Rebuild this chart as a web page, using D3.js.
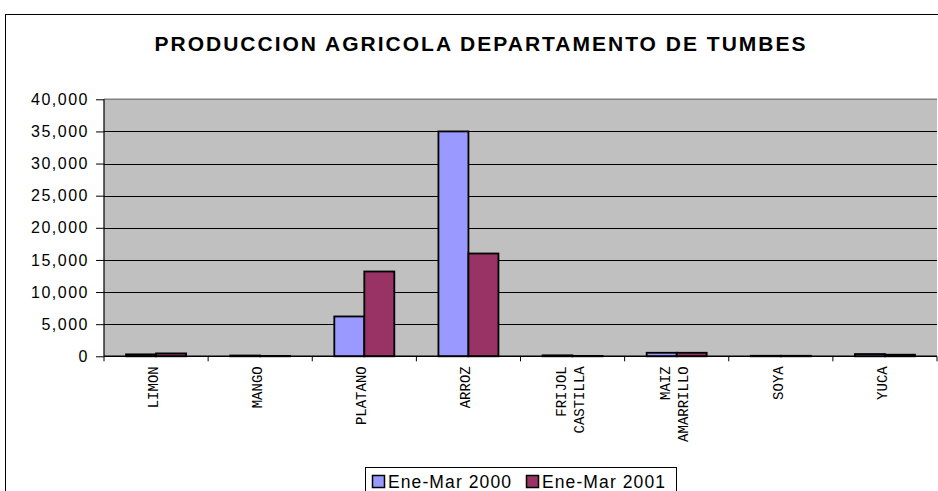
<!DOCTYPE html>
<html><head><meta charset="utf-8">
<script src="https://cdn.jsdelivr.net/npm/d3@7"></script>
<style>body{margin:0;background:#fff;} svg{display:block;}</style>
</head><body>
<svg id="chart" width="938" height="491"></svg>
<script>
const categories = [["LIMON"],["MANGO"],["PLATANO"],["ARROZ"],["FRIJOL","CASTILLA"],["MAIZ","AMARRILLO"],["SOYA"],["YUCA"]];
const seriesNames = ["Ene-Mar 2000","Ene-Mar 2001"];
const values2000 = [300, 120, 6200, 35000, 150, 550, 80, 350];
const values2001 = [450, 60, 13200, 16000, 60, 550, 80, 250];
const yTicks = [0,5000,10000,15000,20000,25000,30000,35000,40000];
const colors = ["#9999FF","#993366"];

(function(){
const svg = d3.select("#chart");
const sans = "Arial, Liberation Sans, sans-serif";
svg.append("rect").attr("x",5.5).attr("y",14.5).attr("width",940).attr("height",490)
  .attr("fill","#fff").attr("stroke","#000").attr("stroke-width",1);

svg.append("text").attr("x",481).attr("y",51).attr("text-anchor","middle")
  .attr("font-family",sans).attr("font-weight","bold").attr("font-size",21).attr("letter-spacing",2.0)
  .text("PRODUCCION AGRICOLA DEPARTAMENTO DE TUMBES");

const pl=104, pr=937, pt=99.3, pb=356.3;
const x = d3.scaleBand().domain(d3.range(categories.length)).range([pl,pr]).paddingInner(0).paddingOuter(0);
const x1 = d3.scaleBand().domain([0,1]).range([0,x.bandwidth()]).paddingOuter(0.735).paddingInner(0);
const y = d3.scaleLinear().domain([0,40000]).range([pb,pt]);

svg.append("rect").attr("x",pl).attr("y",pt).attr("width",pr-pl).attr("height",pb-pt).attr("fill","#C0C0C0");
svg.append("line").attr("x1",pl).attr("x2",pr).attr("y1",pt).attr("y2",pt).attr("stroke","#808080").attr("stroke-width",1.5);

svg.append("g").selectAll("line").data(yTicks.slice(1,-1)).join("line")
  .attr("x1",pl).attr("x2",pr).attr("y1",d=>Math.round(y(d))+0.5).attr("y2",d=>Math.round(y(d))+0.5)
  .attr("stroke","#000").attr("stroke-width",1);

const yAxis = svg.append("g").attr("transform",`translate(${pl},0)`)
  .call(d3.axisLeft(y).tickValues(yTicks).tickSize(8).tickPadding(7).tickFormat(d3.format(",")));
yAxis.select(".domain").remove();
yAxis.selectAll("text").attr("font-family",sans).attr("font-size",16).attr("letter-spacing",1.5).attr("fill","#000");
yAxis.selectAll("line").attr("stroke","#000");
svg.append("line").attr("x1",pl).attr("x2",pl).attr("y1",pt).attr("y2",pb).attr("stroke","#000").attr("stroke-width",1.2);

const series=[values2000,values2001];
const g = svg.append("g");
series.forEach((vals,si)=>{
  g.selectAll(null).data(vals).join("rect")
    .attr("x",(d,i)=>x(i)+x1(si)).attr("width",x1.bandwidth())
    .attr("y",d=>y(d)).attr("height",d=>pb-y(d))
    .attr("fill",colors[si]).attr("stroke","#000").attr("stroke-width",1.8);
});

svg.append("line").attr("x1",pl).attr("x2",pr).attr("y1",pb).attr("y2",pb).attr("stroke","#000").attr("stroke-width",1.5);
d3.range(categories.length+1).forEach(i=>{
  const xx = i<categories.length ? x(i) : pr;
  svg.append("line").attr("x1",xx).attr("x2",xx).attr("y1",pb).attr("y2",pb+5).attr("stroke","#000");
});

categories.forEach((lines,i)=>{
  const cx = x(i)+x.bandwidth()/2;
  const n = lines.length;
  lines.forEach((ln,j)=>{
    const px = cx + (j-(n-1)/2)*18 + 2;
    svg.append("text").attr("transform",`translate(${px},${pb+10}) rotate(-90)`)
      .attr("text-anchor","end").attr("font-family","Courier New, Liberation Mono, monospace")
      .attr("font-size",14).attr("fill","#000").text(ln);
  });
});

const lg = svg.append("g");
lg.append("rect").attr("x",365.5).attr("y",467.5).attr("width",311).attr("height",40).attr("fill","#fff").attr("stroke","#000");
const lx=[372.5,526.5], tx=[388,542];
seriesNames.forEach((s,i)=>{
  lg.append("rect").attr("x",lx[i]).attr("y",475.5).attr("width",12).attr("height",12).attr("fill",colors[i]).attr("stroke","#000").attr("stroke-width",1.5);
  lg.append("text").attr("x",tx[i]).attr("y",488).attr("font-family",sans).attr("font-size",17.5).attr("letter-spacing",1.1).text(s);
});
})();
</script>
</body></html>
